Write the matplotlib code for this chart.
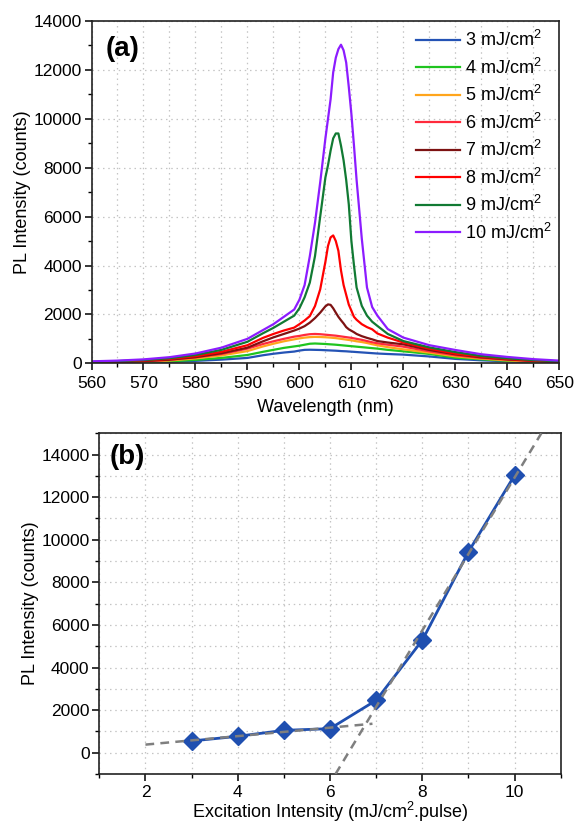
import matplotlib
matplotlib.use("Agg")
import matplotlib.pyplot as plt
from matplotlib.ticker import MultipleLocator

plt.rcParams['font.family'] = ['Liberation Sans', 'DejaVu Sans']
plt.rcParams['mathtext.fontset'] = 'custom'
plt.rcParams['mathtext.rm'] = 'Liberation Sans'
plt.rcParams['mathtext.default'] = 'regular'

# ---------------- data: panel (a), spectra ----------------
wavelength = [560, 565, 570, 575, 580, 585, 590, 593, 595, 597, 599, 600, 601, 602, 603, 604,
              605, 605.5, 606, 606.5, 607, 607.5, 608, 608.5, 609, 609.5, 610, 610.5, 611,
              612, 613, 614, 615, 617, 620, 625, 630, 635, 640, 645, 650]

pl_3 = [10, 20, 40, 60, 100, 150, 220, 330, 390, 440, 480, 520, 550, 555, 550, 545,
        535, 530, 525, 520, 515, 508, 500, 495, 490, 482, 475, 468, 460,
        445, 430, 415, 400, 380, 355, 280, 180, 122, 80, 45, 25]
pl_4 = [15, 25, 45, 80, 140, 220, 340, 470, 550, 630, 690, 720, 760, 800, 810, 800,
        790, 782, 775, 768, 760, 750, 740, 730, 720, 710, 700, 690, 680,
        660, 640, 620, 600, 550, 490, 382, 230, 163, 100, 60, 30]
pl_5 = [20, 35, 65, 115, 200, 320, 500, 690, 800, 900, 980, 1020, 1050, 1070, 1080, 1075,
        1065, 1058, 1050, 1040, 1030, 1015, 1000, 985, 970, 955, 940, 920, 900,
        870, 830, 780, 736, 660, 572, 436, 285, 190, 120, 75, 40]
pl_6 = [25, 45, 80, 140, 240, 380, 600, 790, 900, 1000, 1090, 1120, 1160, 1190, 1200, 1190,
        1170, 1160, 1150, 1140, 1130, 1115, 1100, 1085, 1070, 1055, 1040, 1020, 1000,
        960, 910, 860, 817, 760, 682, 490, 330, 218, 150, 90, 50]
pl_7 = [30, 55, 90, 150, 250, 410, 640, 900, 1060, 1200, 1340, 1420, 1520, 1663, 1850, 2072,
        2330, 2410, 2390, 2250, 2072, 1900, 1760, 1630, 1480, 1390, 1330, 1270, 1200,
        1110, 1040, 980, 911, 850, 776, 545, 368, 245, 160, 100, 55]
pl_8 = [40, 70, 110, 180, 290, 470, 740, 1040, 1200, 1340, 1460, 1600, 1750, 1930, 2342, 3024,
        4150, 4800, 5150, 5230, 5000, 4600, 3800, 3200, 2800, 2400, 2150, 1900, 1780,
        1600, 1480, 1390, 1220, 1050, 850, 600, 395, 272, 180, 110, 60]
pl_9 = [60, 90, 130, 210, 340, 550, 880, 1230, 1450, 1700, 1950, 2250, 2700, 3300, 4386, 6000,
        7600, 8100, 8700, 9200, 9400, 9400, 8900, 8300, 7500, 6500, 5000, 4000, 3100,
        2350, 1950, 1700, 1530, 1200, 910, 650, 460, 300, 205, 130, 80]
pl_10 = [80, 110, 160, 250, 400, 640, 1000, 1360, 1600, 1900, 2200, 2600, 3200, 4380, 5750, 7400,
         9200, 10000, 10800, 11900, 12500, 12850, 13030, 12800, 12300, 11300, 10200, 8900, 7500,
         5100, 3100, 2300, 1950, 1400, 1050, 740, 545, 370, 260, 170, 110]

fluence_labels = ['3 mJ/cm$^2$', '4 mJ/cm$^2$', '5 mJ/cm$^2$', '6 mJ/cm$^2$',
                  '7 mJ/cm$^2$', '8 mJ/cm$^2$', '9 mJ/cm$^2$', '10 mJ/cm$^2$']
spectra = [pl_3, pl_4, pl_5, pl_6, pl_7, pl_8, pl_9, pl_10]
colores = ['#2453b5', '#1fc41f', '#ffa51c', '#ff2a3c', '#7d1212', '#ff0000', '#117a33', '#8c1cff']

# ---------------- data: panel (b) ----------------
excitation = [3, 4, 5, 6, 7, 8, 9, 10]
peak_pl = [550, 770, 1050, 1130, 2460, 5280, 9430, 13030]

# fitted lines (end points)
fit_low_x = [2, 6.92]
fit_low_y = [380, 1360]
fit_high_x = [6.12, 10.58]
fit_high_y = [-1000, 15000]

W, H = 576, 826
fig = plt.figure(figsize=(W / 100, H / 100), dpi=100)

ax1 = fig.add_axes([91.5 / W, 1 - 363.3 / H, (559.3 - 91.5) / W, (363.3 - 21) / H])
ax2 = fig.add_axes([99.3 / W, 1 - 774 / H, (560.7 - 99.3) / W, (774 - 433.3) / H])

grid_kw = dict(color='#c4c4c4', linestyle=(0, (1.2, 3)), linewidth=0.9)
fs_tick = 12.5
fs_label = 13

# ================================
# (a) espectros
# ================================
for datos, etiqueta, color in zip(spectra, fluence_labels, colores):
    ax1.plot(wavelength, datos, color=color, linewidth=1.6, label=etiqueta)

ax1.set_xlim(560, 650)
ax1.set_ylim(0, 14000)
ax1.xaxis.set_major_locator(MultipleLocator(10))
ax1.xaxis.set_minor_locator(MultipleLocator(5))
ax1.yaxis.set_major_locator(MultipleLocator(2000))
ax1.yaxis.set_minor_locator(MultipleLocator(1000))
ax1.grid(True, which='major', **grid_kw)
ax1.grid(True, which='minor', axis='x', **grid_kw)
ax1.set_axisbelow(True)
ax1.set_xlabel('Wavelength (nm)', fontsize=fs_label, labelpad=6)
ax1.set_ylabel('PL Intensity (counts)', fontsize=fs_label, labelpad=2)
ax1.text(0.03, 0.955, '(a)', transform=ax1.transAxes, fontsize=20, fontweight='bold',
         va='top', ha='left')
ax1.legend(loc='upper left', bbox_to_anchor=(0.679, 0.995), frameon=False, fontsize=13,
           handlelength=2.4, handletextpad=0.28, labelspacing=0.41, borderaxespad=0)

# ================================
# (b) intensidad de pico
# ================================
ax2.plot(excitation, peak_pl, color='#1f4fb0', linewidth=2, marker='D', markersize=9.5,
         markerfacecolor='#1f4fb0', markeredgecolor='#1f4fb0', zorder=3)
ax2.plot(fit_low_x, fit_low_y, color='#7f7f7f', linestyle=(0, (3.5, 2.5)), linewidth=1.8, zorder=4)
ax2.plot(fit_high_x, fit_high_y, color='#7f7f7f', linestyle=(0, (3.5, 2.5)), linewidth=1.8, zorder=4)

ax2.set_xlim(1, 11)
ax2.set_ylim(-1000, 15000)
ax2.xaxis.set_major_locator(MultipleLocator(2))
ax2.xaxis.set_minor_locator(MultipleLocator(1))
ax2.yaxis.set_major_locator(MultipleLocator(2000))
ax2.yaxis.set_minor_locator(MultipleLocator(1000))
ax2.grid(True, which='both', **grid_kw)
ax2.set_axisbelow(True)
ax2.set_xlabel('Excitation Intensity (mJ/cm$^2$.pulse)', fontsize=fs_label, labelpad=0)
ax2.set_ylabel('PL Intensity (counts)', fontsize=fs_label, labelpad=2)
ax2.text(0.022, 0.97, '(b)', transform=ax2.transAxes, fontsize=20, fontweight='bold',
         va='top', ha='left')

for ax in (ax1, ax2):
    for s in ax.spines.values():
        s.set_linewidth(1.2)
        s.set_color('#222222')
    ax.tick_params(which='major', direction='out', length=5, width=1.1, labelsize=fs_tick, pad=2)
    ax.tick_params(which='minor', direction='out', length=3, width=1.0)
    ax.tick_params(axis='x', which='major', pad=4)

ax2.tick_params(axis='x', which='major', pad=3)

fig.savefig('out.png', dpi=100)
